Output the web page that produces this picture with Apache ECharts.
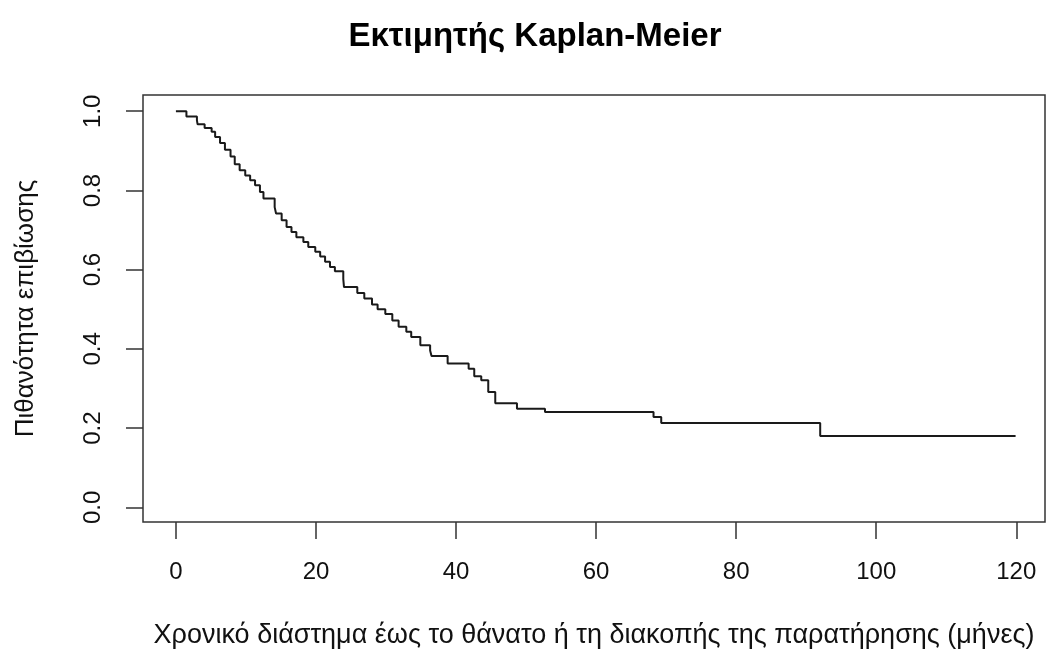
<!DOCTYPE html>
<html>
<head>
<meta charset="utf-8">
<script src="https://cdn.jsdelivr.net/npm/echarts@6/dist/echarts.min.js"></script>
<style>html,body{margin:0;padding:0;background:#fff}#c{width:1046px;height:650px}</style>
</head>
<body>
<div id="c"></div>
<script>
// Kaplan-Meier step data (time in months, survival probability after the event)
const times = [0, 1.5, 3.0, 3.1, 4.1, 5.1, 5.6, 6.3, 7.0, 7.8, 8.4, 9.1, 9.9, 10.6, 11.3, 12.0, 12.5,
  14.1, 14.3, 15.1, 15.8, 16.5, 17.2, 18.2, 18.9, 19.9, 20.6, 21.3, 22.0, 22.7, 23.9, 24.0,
  25.9, 26.9, 28.0, 28.8, 29.9, 30.9, 31.8, 32.9, 33.6, 34.9, 36.3, 36.5, 38.8, 41.8, 42.6,
  43.6, 44.6, 45.6, 48.7, 52.7, 68.2, 69.3, 92.0, 119.9];
const surv = [1.0, 0.987, 0.977, 0.967, 0.958, 0.948, 0.935, 0.92, 0.903, 0.886, 0.866, 0.851, 0.838, 0.826, 0.813, 0.796, 0.78,
  0.758, 0.742, 0.725, 0.708, 0.695, 0.682, 0.67, 0.657, 0.645, 0.633, 0.62, 0.607, 0.596, 0.576, 0.556,
  0.541, 0.527, 0.512, 0.500, 0.488, 0.472, 0.456, 0.443, 0.430, 0.409, 0.396, 0.382, 0.363, 0.350, 0.331,
  0.321, 0.291, 0.263, 0.249, 0.241, 0.228, 0.213, 0.180, 0.180];
const xTicks = [0, 20, 40, 60, 80, 100, 120];
const yTicks = [0, 0.2, 0.4, 0.6, 0.8, 1.0];
const titleText = 'Εκτιμητής Kaplan-Meier';
const xTitle = 'Χρονικό διάστημα έως το θάνατο ή τη διακοπής της παρατήρησης (μήνες)';
const yTitle = 'Πιθανότητα επιβίωσης';

const font = '"Liberation Sans", Arial, sans-serif';
const chart = echarts.init(document.getElementById('c'));
chart.setOption({
  animation: false,
  backgroundColor: '#fff',
  title: {
    text: titleText, left: 530, top: 15, textAlign: 'center',
    textStyle: {fontFamily: font, fontSize: 33, fontWeight: 'bold', color: '#000'}
  },
  grid: {left: 143, top: 95, right: 1, bottom: 128, show: true, borderColor: '#333', borderWidth: 1.5,
    backgroundColor: 'transparent', outerBoundsMode: 'none', containLabel: false},
  xAxis: {
    type: 'value', min: -4.7, max: 124.1,
    splitLine: {show: false},
    axisLine: {show: false, onZero: false},
    axisTick: {show: true, inside: false, length: 17, customValues: xTicks, lineStyle: {color: '#333', width: 1.5}},
    axisLabel: {customValues: xTicks, margin: 38, fontFamily: font, fontSize: 24, color: '#111'},
    name: xTitle, nameLocation: 'middle', nameGap: 100,
    nameTextStyle: {fontFamily: font, fontSize: 27, color: '#111'}
  },
  yAxis: {
    type: 'value', min: -0.037, max: 1.041,
    splitLine: {show: false},
    axisLine: {show: false, onZero: false},
    axisTick: {show: true, inside: false, length: 17, customValues: yTicks, lineStyle: {color: '#333', width: 1.5}},
    axisLabel: {customValues: yTicks, rotate: 90, margin: 38, fontFamily: font, fontSize: 24, color: '#111',
      formatter: v => v.toFixed(1)},
    name: yTitle, nameLocation: 'middle', nameGap: 104, nameRotate: 90,
    nameTextStyle: {fontFamily: font, fontSize: 26, color: '#111'}
  },
  series: [{
    type: 'line', step: 'end', showSymbol: false, symbol: 'none',
    data: times.map((t, i) => [t, surv[i]]),
    lineStyle: {color: '#1a1a1a', width: 2}
  }]
});
</script>
</body>
</html>
